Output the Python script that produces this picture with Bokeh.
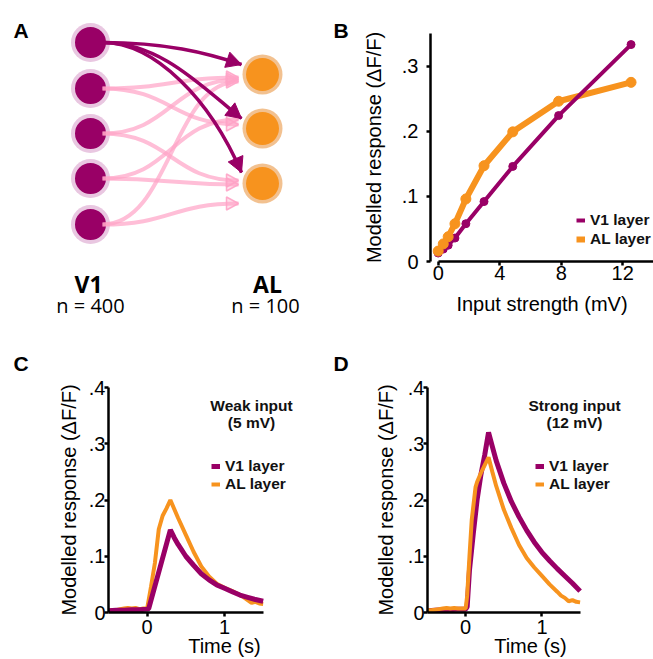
import numpy as np
from bokeh.plotting import figure
from bokeh.layouts import row, column
from bokeh.models import Range1d, FixedTicker, Label, Legend, LegendItem
from bokeh.embed import file_html
from bokeh.resources import INLINE
from bokeh.core.properties import value

PURPLE = "#990066"
ORANGE = "#F7931E"
PINK = "#FFA3C6"
FONT = "Liberation Sans"

# ---------------- data ----------------
# Panel B: response vs input strength
b_input_mv = [0, 0.33, 0.65, 1.09, 1.8, 2.98, 4.85, 7.83, 12.54]
b_v1 = [0.013, 0.019, 0.025, 0.036, 0.058, 0.092, 0.146, 0.224, 0.333]
b_al = [0.016, 0.027, 0.038, 0.058, 0.096, 0.147, 0.199, 0.246, 0.275]
b_xticks = [0, 4, 8, 12]
b_yticks = [0, 0.1, 0.2, 0.3]
b_ylabels = ["0", ".1", ".2", ".3"]

# Panel C: weak input (5 mV) time courses
c_t_v1 = [-0.5, -0.4, -0.3, -0.2, -0.1, 0.0, 0.02, 0.3, 0.35, 0.4, 0.5, 0.6, 0.7,
          0.8, 0.9, 1.0, 1.1, 1.2, 1.3, 1.4, 1.5]
c_v1 = [0.003, 0.004, 0.004, 0.005, 0.005, 0.006, 0.007, 0.147, 0.133, 0.121, 0.100,
        0.084, 0.069, 0.058, 0.049, 0.043, 0.037, 0.031, 0.027, 0.023, 0.020]
c_t_al = [-0.5, -0.45, -0.4, -0.35, -0.3, -0.25, -0.2, -0.15, -0.1, -0.05, 0.0, 0.05,
          0.1, 0.15, 0.2, 0.25, 0.3, 0.35, 0.4, 0.5, 0.6, 0.7, 0.8, 0.9, 1.0, 1.1, 1.2,
          1.25, 1.3, 1.35, 1.4, 1.45, 1.5]
c_al = [0.003, 0.004, 0.004, 0.006, 0.007, 0.008, 0.007, 0.008, 0.006, 0.007, 0.007,
        0.046, 0.088, 0.148, 0.172, 0.185, 0.200, 0.184, 0.168, 0.138, 0.108, 0.082,
        0.064, 0.051, 0.044, 0.038, 0.031, 0.027, 0.022, 0.017, 0.019, 0.016, 0.015]

# Panel D: strong input (12 mV) time courses
d_t_v1 = [-0.5, -0.4, -0.3, -0.2, -0.1, 0.0, 0.02, 0.05, 0.1, 0.15, 0.2, 0.25, 0.3,
          0.35, 0.4, 0.5, 0.6, 0.7, 0.8, 0.9, 1.0, 1.1, 1.2, 1.3, 1.4, 1.5]
d_v1 = [0.003, 0.004, 0.005, 0.005, 0.006, 0.006, 0.010, 0.075, 0.140, 0.200, 0.245,
        0.280, 0.320, 0.295, 0.270, 0.230, 0.197, 0.170, 0.146, 0.125, 0.107, 0.092,
        0.078, 0.065, 0.052, 0.038]
d_t_al = [-0.5, -0.45, -0.4, -0.35, -0.3, -0.25, -0.2, -0.15, -0.1, -0.05, 0.0, 0.02,
          0.05, 0.08, 0.13, 0.15, 0.2, 0.25, 0.3, 0.35, 0.4, 0.5, 0.6, 0.7, 0.8, 0.9,
          1.0, 1.1, 1.2, 1.25, 1.3, 1.35, 1.4, 1.45, 1.5]
d_al = [0.004, 0.004, 0.005, 0.006, 0.007, 0.008, 0.007, 0.008, 0.007, 0.007, 0.007,
        0.030, 0.100, 0.165, 0.223, 0.232, 0.248, 0.262, 0.276, 0.250, 0.225, 0.183,
        0.150, 0.120, 0.097, 0.080, 0.065, 0.050, 0.037, 0.030, 0.026, 0.020, 0.022,
        0.019, 0.018]
cd_xticks = [0, 1]
cd_yticks = [0, 0.1, 0.2, 0.3, 0.4]
cd_ylabels = ["0", ".1", ".2", ".3", ".4"]

# Panel A: network diagram (V1 -> AL)
v1_node_y = [42, 88, 133, 178, 224]
al_node_y = [74, 128, 183]
pink_edges = [(1, 77), (1, 124), (2, 79), (2, 180), (3, 119), (3, 184), (4, 81), (4, 203)]
dark_edges = [(64, 165, 205, 52), (118, 160, 200, 85), (172, 155, 210, 100)]


# ---------------- helpers ----------------
def to_data(px, py, frame, xr, yr):
    left, top, right, bottom = frame
    x = xr[0] + (px - left) * (xr[1] - xr[0]) / (right - left)
    y = yr[0] + (bottom - py) * (yr[1] - yr[0]) / (bottom - top)
    return x, y


def style_axis(ax, ticks, labels, title, lab_so, title_so):
    ax.ticker = FixedTicker(ticks=ticks)
    if labels is not None:
        ax.major_label_overrides = {t: l for t, l in zip(ticks, labels)}
    ax.axis_label = title
    ax.axis_label_text_font = FONT
    ax.axis_label_text_font_size = "20px"
    ax.axis_label_text_font_style = "normal"
    ax.axis_label_text_color = "black"
    ax.axis_label_standoff = title_so
    ax.major_label_text_font = FONT
    ax.major_label_text_font_size = "20px"
    ax.major_label_text_color = "black"
    ax.major_label_standoff = lab_so
    ax.axis_line_width = 2.5
    ax.axis_line_color = "black"
    ax.major_tick_line_width = 2.5
    ax.major_tick_line_color = "black"
    ax.major_tick_in = 0
    ax.major_tick_out = 4
    ax.minor_tick_line_color = None


def clean(p):
    p.xgrid.visible = False
    p.ygrid.visible = False
    p.outline_line_color = None


def note(p, lines, cx, base_y, frame, xr, yr):
    for i, t in enumerate(lines):
        x, y = to_data(cx, base_y + 17.5 * i, frame, xr, yr)
        p.add_layout(Label(x=x, y=y, text=t, text_font=FONT, text_font_size="15.5px",
                           text_font_style="bold", text_color="#111111",
                           text_align="center", text_baseline="alphabetic"))


def legend(p, r1, r2, loc, spacing):
    leg = Legend(items=[LegendItem(label="V1 layer", renderers=[r1]),
                        LegendItem(label="AL layer", renderers=[r2])],
                 location=loc, orientation="vertical", glyph_width=9, glyph_height=14,
                 label_height=14, label_standoff=5, spacing=spacing, padding=0, margin=0,
                 border_line_color=None, background_fill_alpha=0,
                 label_text_font=FONT, label_text_font_size="15.5px",
                 label_text_font_style="bold", label_text_color="#111111")
    p.add_layout(leg, "center")


COMMON = dict(title=None, toolbar_location=None, output_backend="svg", frame_align=False)

# ---------------- panel A (also carries the panel letters) ----------------
pA = figure(width=350, height=376, x_range=Range1d(0, 350), y_range=Range1d(376, 0),
            x_axis_location=None, y_axis_location=None, min_border=0, **COMMON)
clean(pA)

V1X, ALX, SX, TX = 90, 262, 102, 238


def head(tip, d, L, W):
    d = np.asarray(d, float)
    d = d / np.hypot(*d)
    n = np.array([-d[1], d[0]])
    tip = np.asarray(tip, float)
    b = tip - L * d
    pts = [tip, b + W * n, b - W * n]
    return [p[0] for p in pts], [p[1] for p in pts]


# nodes
pA.circle([V1X] * 5, v1_node_y, radius=19.5, fill_color="#E9C7E1", line_color=None)
pA.circle([V1X] * 5, v1_node_y, radius=15.5, fill_color=PURPLE, line_color=None)
pA.circle([ALX] * 3, al_node_y, radius=20, fill_color="#F2C190", line_color=None)
pA.circle([ALX] * 3, al_node_y, radius=16.5, fill_color=ORANGE, line_color=None)

# weak (pink) connections
px0, py0, pcx0, pcy0, pcx1, pcy1, px1, py1 = [], [], [], [], [], [], [], []
hx, hy = [], []
for src, ey in pink_edges:
    y0 = v1_node_y[src]
    px0.append(SX); py0.append(y0); pcx0.append(170); pcy0.append(y0)
    pcx1.append(172); pcy1.append(ey); px1.append(TX); py1.append(ey)
    xs, ys = head((TX, ey), (1, 0), 12, 6.5)
    hx.append(xs); hy.append(ys)
pA.bezier(x0=px0, y0=py0, x1=px1, y1=py1, cx0=pcx0, cy0=pcy0, cx1=pcx1, cy1=pcy1,
          line_color=PINK, line_width=4, line_alpha=0.7)
pA.patches(hx, hy, fill_color=PINK, fill_alpha=0.35, line_color=PINK, line_alpha=0.9,
           line_width=1.5)

# strong (dark) connections
dx0, dy0, dcx0, dcy0, dcx1, dcy1, dx1, dy1 = [], [], [], [], [], [], [], []
hx, hy = [], []
for ey, c1x, c2x, c2y in dark_edges:
    dx0.append(SX); dy0.append(v1_node_y[0]); dcx0.append(c1x); dcy0.append(v1_node_y[0])
    dcx1.append(c2x); dcy1.append(c2y); dx1.append(241); dy1.append(ey)
    xs, ys = head((241, ey), (241 - c2x, ey - c2y), 15, 8)
    hx.append(xs); hy.append(ys)
pA.bezier(x0=dx0, y0=dy0, x1=dx1, y1=dy1, cx0=dcx0, cy0=dcy0, cx1=dcx1, cy1=dcy1,
          line_color=PURPLE, line_width=3.5)
pA.patches(hx, hy, fill_color=PURPLE, line_color=PURPLE, line_width=1)

pA.text(x=[88, 267], y=[283, 283], text=["V1", "AL"], text_font=value("Open Sans"),
        text_font_size="23px", text_font_style="bold", text_color="black",
        text_align="center", text_baseline="alphabetic")
pA.text(x=[90, 265], y=[305, 305], text=["n = 400", "n = 100"], text_font=value("Open Sans"),
        text_font_size="20px", text_color="black", text_align="center",
        text_baseline="alphabetic")
pA.text(x=[13, 333, 13, 333], y=[30, 30, 363, 363], text=["A", "B", "C", "D"],
        text_font=value(FONT), text_font_size="21px", text_font_style="bold",
        text_color="black", text_align="left", text_baseline="alphabetic")

# ---------------- panel B ----------------
BX, BY = (-0.5, 14.0), (0, 0.35)
pB = figure(width=303, height=330, x_range=Range1d(*BX), y_range=Range1d(*BY),
            min_border_left=80, min_border_right=0, min_border_top=33,
            min_border_bottom=69, **COMMON)
clean(pB)
style_axis(pB.xaxis[0], b_xticks, None, "Input strength (mV)", 0, 10)
style_axis(pB.yaxis[0], b_yticks, b_ylabels, "Modelled response (\u0394F/F)", 8, 14)
pB.xaxis[0].bounds = (0, BX[1])
rb_al = pB.line(b_input_mv, b_al, line_color=ORANGE, line_width=6)
rb_v1 = pB.line(b_input_mv, b_v1, line_color=PURPLE, line_width=4)
pB.scatter(b_input_mv, b_v1, size=8, fill_color=PURPLE, line_color=PURPLE)
pB.scatter(b_input_mv, b_al, size=10, fill_color=ORANGE, line_color=ORANGE)
legend(pB, rb_v1, rb_al, (146, 13), 1)

# ---------------- panel C ----------------
TYR = (0, 0.4)
CXR = (-0.5, 2.5)
CF = (108, 387, 340, 613)
pC = figure(width=350, height=283, x_range=Range1d(*CXR), y_range=Range1d(*TYR),
            min_border_left=108, min_border_right=10, min_border_top=11,
            min_border_bottom=46, **COMMON)
clean(pC)
style_axis(pC.xaxis[0], cd_xticks, None, "Time (s)", 3, -2)
style_axis(pC.yaxis[0], cd_yticks, cd_ylabels, "Modelled response (\u0394F/F)", -1, 6)
pC.xaxis[0].bounds = (-0.5, 1.5)
rc_al = pC.line(c_t_al, c_al, line_color=ORANGE, line_width=4)
rc_v1 = pC.line(c_t_v1, c_v1, line_color=PURPLE, line_width=5)
legend(pC, rc_v1, rc_al, (103, 119), 0)
note(pC, ["Weak input", "(5 mV)"], 251, 405, CF, CXR, TYR)

# ---------------- panel D ----------------
DXR = (-0.5, 2.2)
DF = (427, 387, 633, 613)
pD = figure(width=303, height=329, x_range=Range1d(*DXR), y_range=Range1d(*TYR),
            min_border_left=77, min_border_right=20, min_border_top=57,
            min_border_bottom=46, **COMMON)
clean(pD)
style_axis(pD.xaxis[0], cd_xticks, None, "Time (s)", 3, -2)
style_axis(pD.yaxis[0], cd_yticks, cd_ylabels, "Modelled response (\u0394F/F)", -1, 8)
pD.xaxis[0].bounds = (-0.5, 1.5)
rd_v1 = pD.line(d_t_v1, d_v1, line_color=PURPLE, line_width=5)
rd_al = pD.line(d_t_al, d_al, line_color=ORANGE, line_width=4)
legend(pD, rd_v1, rd_al, (108, 119), 0)
note(pD, ["Strong input", "(12 mV)"], 574, 405, DF, DXR, TYR)

layout = row(column(pA, pC), column(pB, pD))
open("out.html", "w").write(file_html(layout, INLINE))
